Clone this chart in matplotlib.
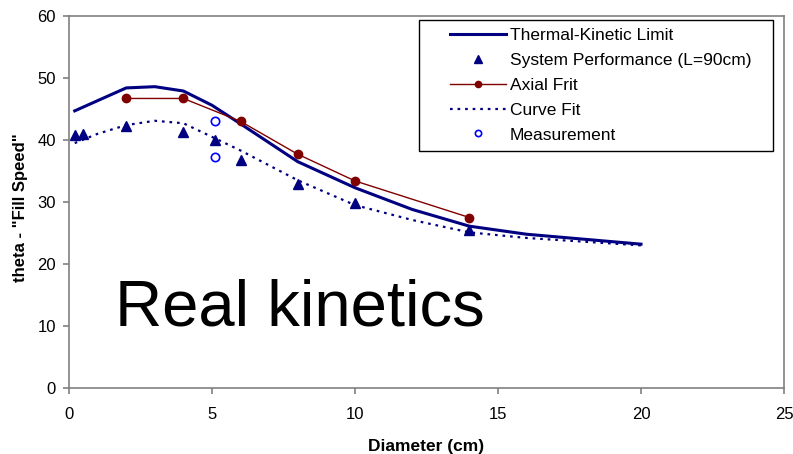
import matplotlib
matplotlib.use('Agg')
from matplotlib import pyplot as plt
from matplotlib.patches import Rectangle

plt.rcParams['font.family'] = ['Liberation Sans', 'DejaVu Sans']

# Thermal-Kinetic Limit
thermal_x = [0.2, 2, 3, 4, 5, 6, 8, 10, 12, 14, 16, 20]
thermal_y = [44.7, 48.4, 48.6, 47.9, 45.6, 42.6, 36.5, 32.3, 28.8, 26.1, 24.8, 23.2]

# System Performance (L=90cm)
system_x = [0.2, 0.5, 2, 4, 5.1, 6, 8, 10, 14]
system_y = [40.8, 40.9, 42.3, 41.3, 40.0, 36.8, 32.9, 29.8, 25.5]

# Axial Frit
frit_x = [2, 4, 6, 8, 10, 14]
frit_y = [46.7, 46.7, 43.0, 37.7, 33.4, 27.5]

# Curve Fit
fit_x = [0.2, 1, 2, 3, 4, 5, 6, 8, 10, 12, 14, 16, 20]
fit_y = [39.5, 41.0, 42.4, 43.1, 42.7, 40.5, 38.3, 33.5, 29.5, 27.1, 25.1, 24.2, 23.0]

# Measurement
meas_x = [5.1, 5.1]
meas_y = [43.0, 37.2]

fig = plt.figure(figsize=(7.93, 4.54), dpi=100)
ax = fig.add_axes([69/793, 1-388/454, 715/793, 372/454])

ax.plot(thermal_x, thermal_y, color='#000080', lw=2.2, label='Thermal-Kinetic Limit', zorder=3)
ax.plot(system_x, system_y, ls='none', marker='^', ms=7, color='#000080',
        label='System Performance (L=90cm)', zorder=5)
ax.plot(frit_x, frit_y, color='#800000', lw=1, marker='o', ms=6, label='Axial Frit', zorder=4)
ax.plot(fit_x, fit_y, color='#000080', lw=1.6, ls=(0, (1.2, 2.2)), label='Curve Fit', zorder=2)
ax.plot(meas_x, meas_y, ls='none', marker='o', ms=6, mfc='white', mec='#0000FF', mew=1.2,
        label='Measurement', zorder=5)

ax.text(1.6, 10, 'Real kinetics', fontsize=47, ha='left', va='baseline')

ax.set_xlim(0, 25)
ax.set_ylim(0, 60)
ax.set_xticks([0, 5, 10, 15, 20, 25])
ax.set_yticks([0, 10, 20, 30, 40, 50, 60])
ax.tick_params(axis='both', colors='#808080', labelcolor='black', labelsize=12, length=4.5, width=1.2)
ax.tick_params(axis='x', pad=9)
ax.tick_params(axis='y', pad=5)
for s in ax.spines.values():
    s.set_color('#808080')
    s.set_linewidth(1.2)

ax.set_xlabel('Diameter (cm)', fontsize=12.5, fontweight='bold')
ax.set_ylabel('theta - "Fill Speed"', fontsize=12, fontweight='bold')
ax.xaxis.set_label_coords(0.5, -0.137)
ax.yaxis.set_label_coords(-0.058, 0.484)

# legend box drawn separately so the entries sit indented like the original
box = Rectangle((0.4895, 0.637), 0.4955, 0.352, transform=ax.transAxes,
                facecolor='white', edgecolor='black', lw=1, zorder=6)
ax.add_patch(box)
leg = ax.legend(loc='upper left', bbox_to_anchor=(0.533, 0.968), fontsize=12.5, frameon=False,
                handlelength=3.2, markerscale=0.75, borderpad=0, borderaxespad=0,
                labelspacing=0.56, handletextpad=0.25)
leg.set_zorder(7)

fig.savefig('out.png', dpi=100)
